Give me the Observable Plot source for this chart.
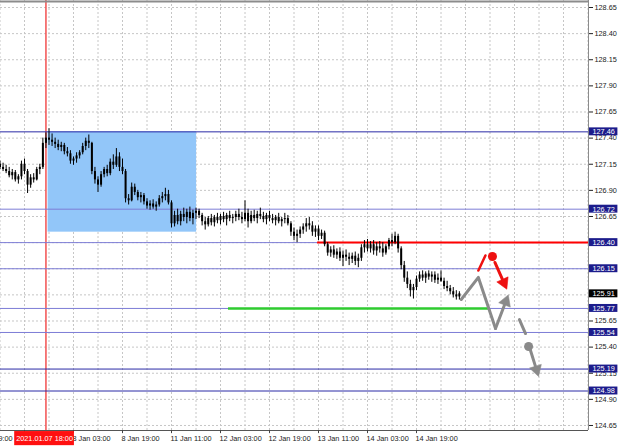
<!DOCTYPE html>
<html>
<head>
<meta charset="utf-8">
<script src="https://cdn.jsdelivr.net/npm/d3@7"></script>
<script src="https://cdn.jsdelivr.net/npm/@observablehq/plot@0.6"></script>
<style>
  html, body { margin: 0; padding: 0; background: #fff; }
  #chart svg { display: block; }
</style>
</head>
<body>
<div id="chart"></div>
<script>
// ---- Data (H1 candles, bar index 0 = 7 Jan 11:00) ----
const firstBar = -8;
const opens = [
  127.15,127.12,127.10,127.08,127.04,127.07,127.00,127.03,127.15,127.08,
  126.95,127.02,127.00,127.10,127.12,127.35,127.40,127.38,127.36,127.34,
  127.31,127.33,127.27,127.25,127.18,127.20,127.23,127.26,127.32,127.37,
  127.35,127.08,127.00,126.95,127.05,127.10,127.06,127.17,127.14,127.22,
  127.12,127.08,126.82,126.80,126.93,126.88,126.83,126.85,126.79,126.75,
  126.77,126.74,126.76,126.82,126.84,126.86,126.78,126.58,126.66,126.60,
  126.67,126.64,126.69,126.63,126.68,126.70,126.66,126.60,126.57,126.63,
  126.59,126.64,126.61,126.65,126.62,126.66,126.63,126.64,126.67,126.64,
  126.62,126.68,126.60,126.66,126.63,126.67,126.65,126.62,126.66,126.63,
  126.61,126.64,126.60,126.62,126.63,126.58,126.50,126.46,126.48,126.52,
  126.55,126.58,126.56,126.50,126.53,126.46,126.49,126.38,126.30,126.33,
  126.28,126.31,126.25,126.28,126.26,126.24,126.27,126.22,126.25,126.35,
  126.38,126.34,126.38,126.32,126.36,126.34,126.30,126.36,126.42,126.40,
  126.46,126.34,126.18,126.06,126.00,125.94,125.97,126.05,126.09,126.06,
  126.10,126.07,126.09,126.04,126.06,126.03,125.98,125.96,125.93,125.90,
  125.88
];
const highs = [
  127.18,127.16,127.14,127.12,127.10,127.09,127.05,127.18,127.20,127.10,
  127.05,127.06,127.12,127.15,127.40,127.45,127.49,127.44,127.40,127.38,
  127.36,127.35,127.31,127.28,127.22,127.26,127.28,127.35,127.40,127.43,
  127.36,127.12,127.03,127.08,127.12,127.14,127.20,127.24,127.30,127.26,
  127.20,127.10,126.86,126.97,126.96,126.90,126.88,126.87,126.82,126.80,
  126.81,126.79,126.85,126.88,126.92,126.90,126.80,126.70,126.72,126.70,
  126.73,126.72,126.74,126.71,126.73,126.72,126.68,126.64,126.65,126.67,
  126.66,126.68,126.67,126.69,126.68,126.70,126.67,126.70,126.72,126.69,
  126.80,126.72,126.70,126.71,126.70,126.73,126.69,126.68,126.70,126.67,
  126.66,126.68,126.64,126.68,126.66,126.60,126.54,126.52,126.55,126.58,
  126.63,126.64,126.60,126.56,126.56,126.52,126.51,126.40,126.36,126.37,
  126.34,126.35,126.32,126.33,126.30,126.30,126.31,126.29,126.38,126.42,
  126.43,126.41,126.42,126.40,126.41,126.40,126.38,126.44,126.48,126.50,
  126.48,126.36,126.22,126.12,126.04,126.00,126.08,126.12,126.13,126.12,
  126.13,126.12,126.12,126.10,126.13,126.06,126.03,125.99,125.97,125.94,
  125.93
];
const lows = [
  127.10,127.08,127.06,127.02,127.00,126.98,126.96,127.00,127.05,126.87,
  126.92,126.97,126.99,127.05,127.10,127.30,127.33,127.32,127.30,127.28,
  127.27,127.24,127.22,127.15,127.14,127.16,127.20,127.24,127.28,127.30,
  127.05,126.96,126.88,126.93,127.02,127.03,127.04,127.10,127.12,127.08,
  127.05,126.78,126.76,126.79,126.85,126.80,126.78,126.76,126.72,126.71,
  126.72,126.70,126.74,126.78,126.80,126.76,126.54,126.55,126.57,126.56,
  126.60,126.58,126.60,126.57,126.62,126.63,126.56,126.52,126.55,126.56,
  126.55,126.58,126.57,126.59,126.56,126.60,126.58,126.60,126.61,126.58,
  126.60,126.54,126.58,126.60,126.58,126.62,126.59,126.57,126.60,126.58,
  126.56,126.58,126.55,126.58,126.56,126.46,126.42,126.40,126.44,126.48,
  126.50,126.52,126.46,126.45,126.42,126.43,126.36,126.27,126.26,126.25,
  126.24,126.22,126.17,126.22,126.18,126.20,126.18,126.16,126.22,126.30,
  126.31,126.30,126.28,126.27,126.30,126.26,126.28,126.33,126.36,126.38,
  126.30,126.14,126.02,125.96,125.88,125.86,125.94,126.02,126.03,126.01,
  126.04,126.02,126.01,126.00,126.02,125.95,125.93,125.90,125.87,125.85,
  125.85
];
const closes = [
  127.12,127.10,127.08,127.04,127.07,127.00,127.03,127.15,127.08,126.95,
  127.02,127.00,127.10,127.12,127.35,127.40,127.38,127.36,127.34,127.31,
  127.33,127.27,127.25,127.18,127.20,127.23,127.26,127.32,127.37,127.35,
  127.08,127.00,126.95,127.05,127.10,127.06,127.17,127.14,127.22,127.12,
  127.08,126.82,126.80,126.93,126.88,126.83,126.85,126.79,126.75,126.77,
  126.74,126.76,126.82,126.84,126.86,126.78,126.58,126.66,126.60,126.67,
  126.64,126.69,126.63,126.68,126.70,126.66,126.60,126.57,126.63,126.59,
  126.64,126.61,126.65,126.62,126.66,126.63,126.64,126.67,126.64,126.62,
  126.68,126.60,126.66,126.63,126.67,126.65,126.62,126.66,126.63,126.61,
  126.64,126.60,126.62,126.63,126.58,126.50,126.46,126.48,126.52,126.55,
  126.58,126.56,126.50,126.53,126.46,126.49,126.38,126.30,126.33,126.28,
  126.31,126.25,126.28,126.26,126.24,126.27,126.22,126.25,126.35,126.38,
  126.34,126.38,126.32,126.36,126.34,126.30,126.36,126.42,126.40,126.46,
  126.34,126.18,126.06,126.00,125.94,125.97,126.05,126.09,126.06,126.10,
  126.07,126.09,126.04,126.06,126.03,125.98,125.96,125.93,125.90,125.88,
  125.91
];

// axis ticks
const yTickValues = [124.65,124.90,125.15,125.40,125.65,125.90,126.15,126.40,126.65,126.90,127.15,127.40,127.65,127.90,128.15,128.40,128.65];
const yTicksUnderLabels = [125.90, 126.15, 126.40];   // hidden behind level labels in the reference
const xTickBars   = [-16, 0, 16, 32, 48, 64, 80, 96, 112, 128];
const xTickLabels = ["6 Jan 19:00","","8 Jan 03:00","8 Jan 19:00","11 Jan 11:00","12 Jan 03:00","12 Jan 19:00","13 Jan 11:00","14 Jan 03:00","14 Jan 19:00"];

// levels
const strongLevels = [127.46, 125.19, 124.98];
const softLevels   = [126.72, 126.40, 126.15, 125.77, 125.54];
const levelLabels  = [127.46, 126.72, 126.40, 126.15, 125.77, 125.54, 125.19, 124.98];
const lastPrice    = 125.91;
const markerBar    = 7;              // 2021.01.07 18:00
const markerText   = "2021.01.07 18:00";
const boxBars      = [7.7, 56.2];
const boxPrices    = [126.50, 127.46];
const redLevel     = 126.40, redFromBar = 95.7;
const greenLevel   = 125.77, greenBars = [66.6, 151.5];

// forecast drawings  [bar, price]
const grayZigzag  = [[142.6,125.856],[148.2,126.067],[153.8,125.578]];
const grayArrow1  = [[153.8,125.578],[157.9,125.894]];
const redDash     = [[148.2,126.133],[150.5,126.277]];
const redDot      = [[152.8,126.267]];
const redArrow    = [[153.6,126.21],[157.4,125.96]];
const grayDash    = [[161.6,125.664],[163.6,125.53]];
const grayDot     = [[164.6,125.406]];
const grayArrow2  = [[165.2,125.37],[167.8,125.125]];

// ---- Build ----
const bars = closes.map((c, k) => ({i: firstBar + k, o: opens[k], h: highs[k], l: lows[k], c}));
const X_MIN = -7.837, X_MAX = 184.16, Y_MIN = 124.602, Y_MAX = 128.717;
const gridBars = d3.range(-8, 185, 8);
const dotted = {stroke: "#c6c6c6", strokeDasharray: "2,2"};
const navy = "#1c1c8c";
const RED = "#ee1111", GRAY = "#8a8a8a";

const layout = {
  width: 620, height: 447,
  marginLeft: 0, marginRight: 32, marginTop: 0, marginBottom: 17,
  style: {background: "#fff", fontFamily: "'Liberation Sans', Arial, sans-serif", fontSize: "7.3px", color: "#222"},
  x: {type: "linear", domain: [X_MIN, X_MAX], axis: null},
  y: {domain: [Y_MIN, Y_MAX], axis: "right", ticks: yTickValues,
      tickFormat: d => yTicksUnderLabels.includes(d) ? "" : d.toFixed(2),
      tickSize: 4, tickPadding: 2, label: null}
};

// first pass: get the scales to orient filled arrowheads
const base = Plot.plot({...layout, marks: [Plot.ruleY([Y_MIN, Y_MAX]), Plot.ruleX([X_MIN, X_MAX])]});
const sx = base.scale("x"), sy = base.scale("y");
const HEAD = 6.5; // px from tip to triangle centroid
function arrowParts(seg) {
  const [a, b] = seg;
  const ax = sx.apply(a[0]), ay = sy.apply(a[1]);
  const bx = sx.apply(b[0]), by = sy.apply(b[1]);
  const L = Math.hypot(bx - ax, by - ay), ux = (bx - ax) / L, uy = (by - ay) / L;
  const cx = bx - ux * HEAD, cy = by - uy * HEAD;
  const ex = bx - ux * (HEAD * 1.6), ey = by - uy * (HEAD * 1.6);
  return {
    shaft: [[a[0], a[1]], [sx.invert(ex), sy.invert(ey)]],
    head: {x: sx.invert(cx), y: sy.invert(cy), rotate: Math.atan2(ux, -uy) * 180 / Math.PI}
  };
}
const arrows = [[grayArrow1, GRAY], [redArrow, RED], [grayArrow2, GRAY]].map(([seg, color]) => ({...arrowParts(seg), color}));

const arrowMarks = arrows.flatMap(a => [
  Plot.line(a.shaft, {x: d => d[0], y: d => d[1], stroke: a.color, strokeWidth: 3}),
  Plot.dot([a.head], {x: "x", y: "y", rotate: "rotate", symbol: "triangle", r: 4.6, fill: a.color, stroke: a.color, strokeWidth: 0.5})
]);

const chart = Plot.plot({
  ...layout,
  marks: [
    Plot.ruleY(yTickValues, dotted),
    Plot.ruleX(gridBars, dotted),
    Plot.rect([0], {x1: boxBars[0], x2: boxBars[1], y1: boxPrices[0], y2: boxPrices[1], fill: "#92c6f9"}),
    Plot.ruleX([markerBar], {stroke: "#f25050", strokeWidth: 1.5}),
    Plot.ruleY(softLevels, {stroke: "#7d7dd6"}),
    Plot.ruleY(strongLevels, {stroke: "#2a2aa6"}),
    Plot.ruleY([greenLevel], {x1: greenBars[0], x2: greenBars[1], stroke: "#2fcc2f", strokeWidth: 2.5}),
    Plot.ruleY([redLevel], {x1: redFromBar, x2: X_MAX, stroke: "#ff0000", strokeWidth: 2}),
    // candles
    Plot.ruleX(bars, {x: "i", y1: "l", y2: "h", stroke: "#000", strokeWidth: 1}),
    Plot.ruleX(bars, {x: "i", y1: "o", y2: "c", stroke: "#000", strokeWidth: 2}),
    // forecast drawings
    Plot.line(grayZigzag, {x: d => d[0], y: d => d[1], stroke: GRAY, strokeWidth: 3}),
    Plot.line(redDash, {x: d => d[0], y: d => d[1], stroke: RED, strokeWidth: 2.5}),
    Plot.dot(redDot, {x: d => d[0], y: d => d[1], r: 4.5, fill: RED}),
    Plot.line(grayDash, {x: d => d[0], y: d => d[1], stroke: GRAY, strokeWidth: 3}),
    Plot.dot(grayDot, {x: d => d[0], y: d => d[1], r: 4.5, fill: GRAY}),
    ...arrowMarks,
    // frame
    Plot.ruleY([Y_MAX], {stroke: "#8c8c8c", strokeWidth: 2, dy: 1}),
    Plot.ruleX([X_MAX], {stroke: "#8c8c8c"}),
    Plot.ruleY([Y_MIN], {stroke: "#555"}),
    // price labels on the right axis
    Plot.rect(levelLabels, {x1: X_MAX + 0.3, x2: X_MAX + 9.6, y1: d => d - 0.038, y2: d => d + 0.038, fill: navy}),
    Plot.text(levelLabels, {x: X_MAX + 4.95, y: d => d, text: d => d.toFixed(2), fill: "#fff", fontSize: 7.3}),
    Plot.rect([lastPrice], {x1: X_MAX + 0.3, x2: X_MAX + 9.6, y1: d => d - 0.038, y2: d => d + 0.038, fill: "#000"}),
    Plot.text([lastPrice], {x: X_MAX + 4.95, y: d => d, text: d => d.toFixed(2), fill: "#fff", fontSize: 7.3}),
    // time axis
    Plot.ruleX(xTickBars, {y1: Y_MIN, y2: Y_MIN - 0.03, stroke: "#444"}),
    Plot.text(xTickBars, {x: d => d, y: Y_MIN, dy: 8, dx: -1, text: (d, k) => xTickLabels[k], textAnchor: "start", fill: "#222", fontSize: 7.3}),
    Plot.rect([markerBar], {x1: d => d - 10.2, x2: d => d + 9.3, y1: Y_MIN - 0.01, y2: Y_MIN - 0.145, fill: "#ff1010"}),
    Plot.text([markerBar], {x: d => d - 0.45, y: Y_MIN, dy: 8, text: () => markerText, fill: "#fff", fontSize: 7.3})
  ]
});
document.getElementById("chart").appendChild(chart);
</script>
</body>
</html>
